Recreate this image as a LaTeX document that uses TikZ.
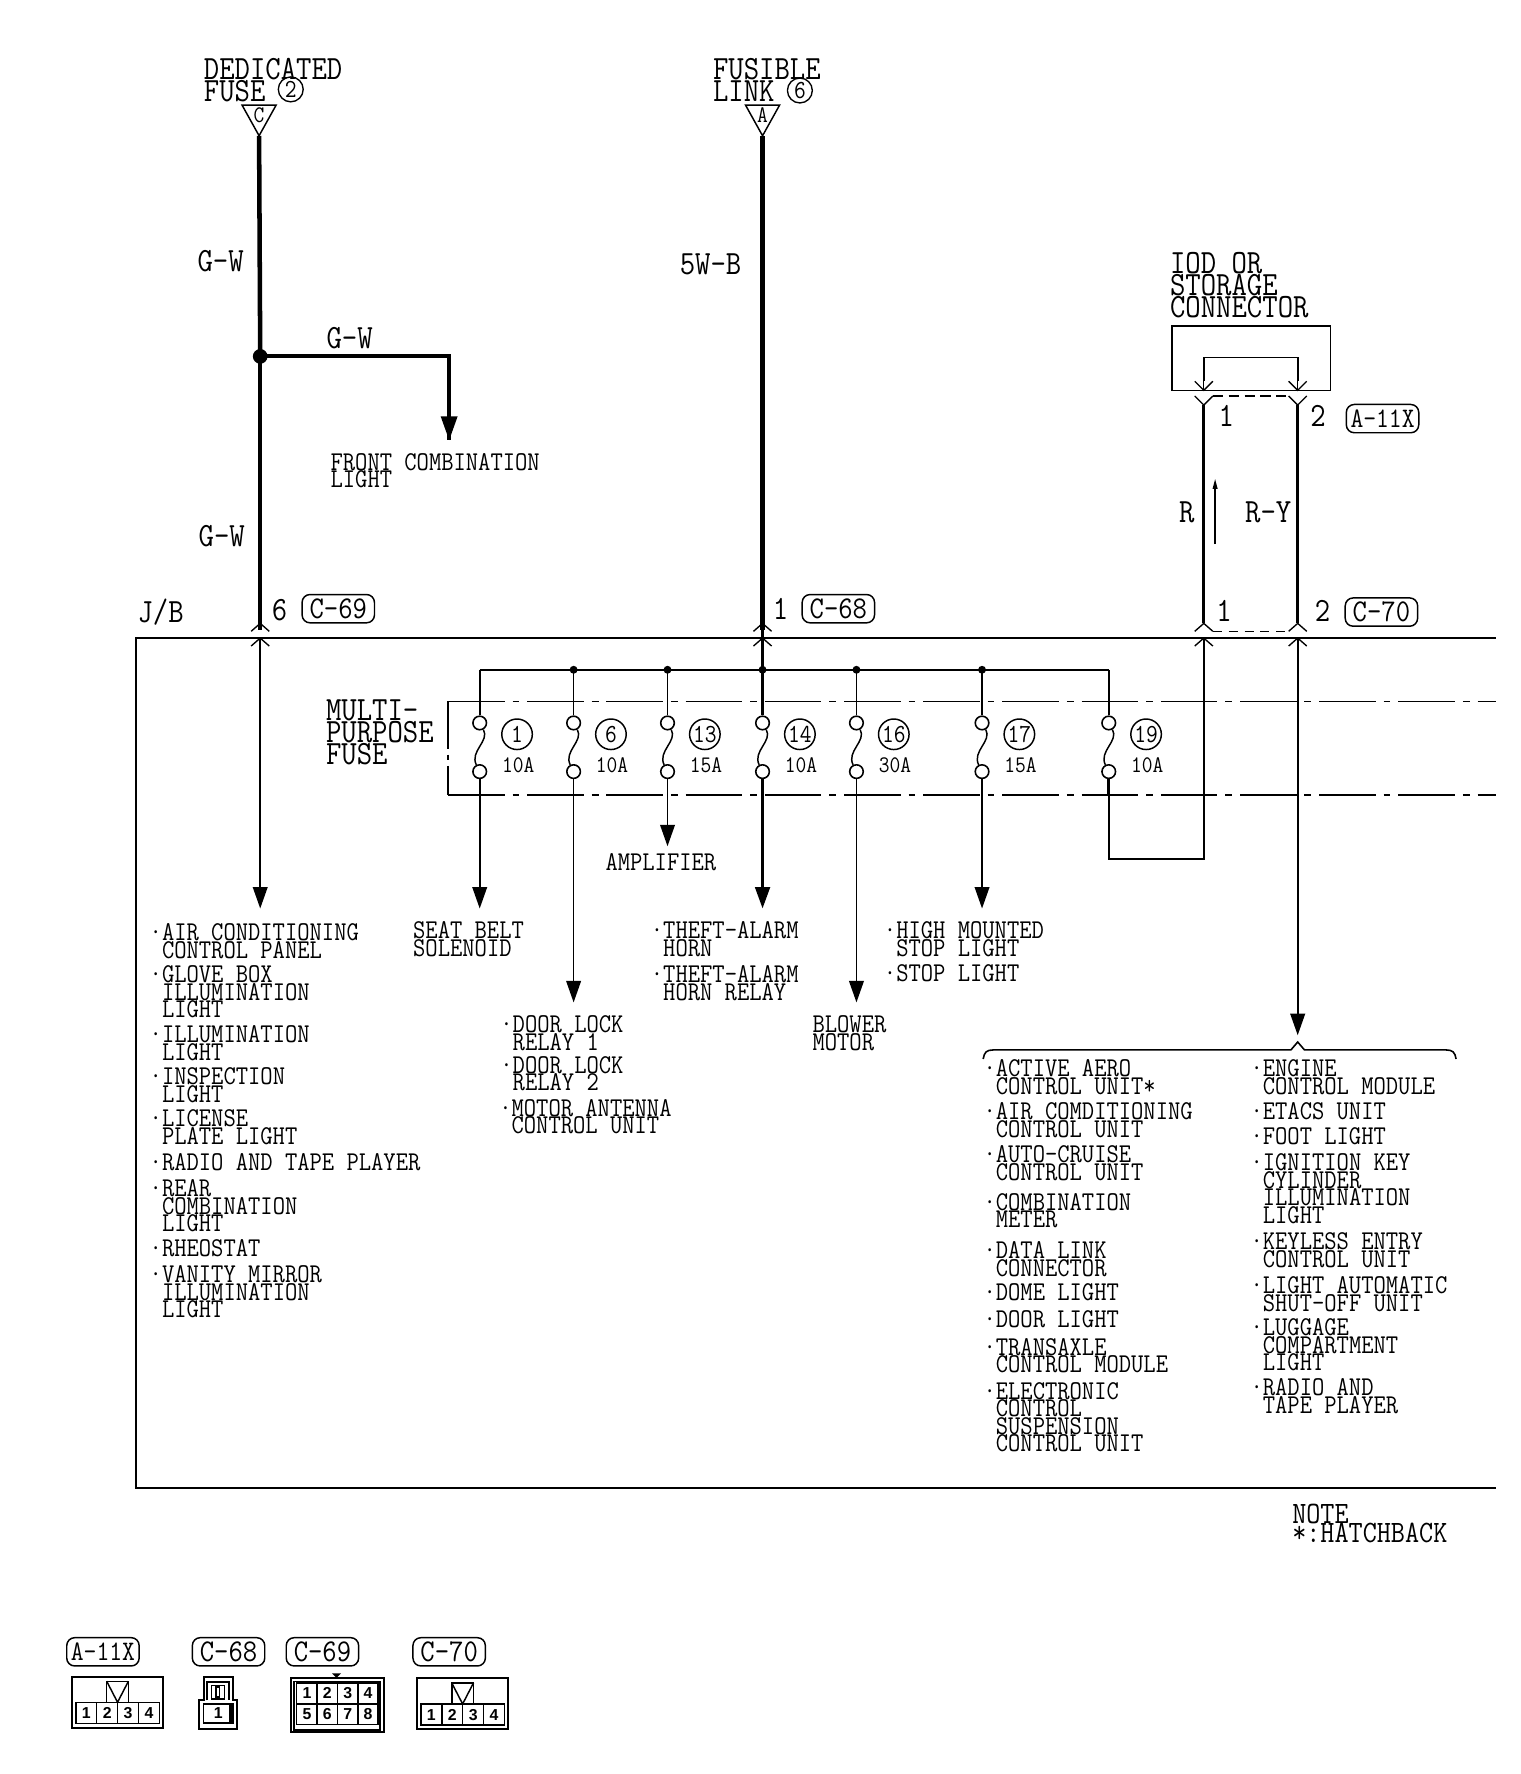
\documentclass[tikz,border=0pt]{standalone}
\usepackage{fontspec}
\usetikzlibrary{arrows.meta,calc}
\newfontfamily\wf[FakeStretch=0.88]{Latin Modern Mono}
\newfontfamily\cellf{Liberation Sans}
\newcommand\smalltxt{\wf\fontsize{24}{15.5}\selectfont\lineskiplimit=-100pt}
\newcommand\bigtxt{\wf\fontsize{30}{19.5}\selectfont\lineskiplimit=-100pt}
\newcommand\notetxt{\wf\fontsize{27.5}{17.2}\selectfont\lineskiplimit=-100pt}
\newcommand\amptxt{\wf\fontsize{21}{15}\selectfont}
\newcommand\numtxt{\wf\fontsize{23}{15}\selectfont}
\newcommand\reftxt{\wf\fontsize{28}{20}\selectfont}
\newcommand\reftxtn{\wf\fontsize{25}{20}\selectfont}
\newcommand\bul{\llap{·}}
\tikzset{
  txt/.style={anchor=north west,inner sep=0,align=left,font=\smalltxt},
  bigt/.style={anchor=north west,inner sep=0,align=left,font=\bigtxt},
  lab/.style={inner sep=0,font=\bigtxt},
  conn/.style={draw,rounded corners=7pt,font=\reftxt,minimum width=64pt,minimum height=25pt,inner sep=0,line width=1.3pt},
  connn/.style={conn,font=\reftxtn},
  heavy/.style={line width=4pt},
  medw/.style={line width=2.6pt},
  thinw/.style={line width=1.4pt},
  arr/.style={-{Triangle[length=19pt,width=13pt]}},
  dot/.style={circle,fill=black,inner sep=0,minimum size=7pt},
  fuse/.style={circle,draw,fill=white,inner sep=0,minimum size=12pt,line width=1.4pt},
  fnum/.style={circle,draw,inner sep=0,minimum size=27pt,line width=1.3pt,font=\numtxt},
  famp/.style={inner sep=0,font=\amptxt},
  ddot/.style={line width=1.6pt,dash pattern=on 50pt off 7pt on 6pt off 7pt},
  cell/.style={draw,line width=1.3pt,minimum width=18.5pt,minimum height=18.5pt,inner sep=0,font=\cellf\fontsize{14}{14}\selectfont\bfseries},
  frame/.style={draw,line width=1.8pt,inner sep=0},
}
\newcommand\Lab[4]{\node[txt] (#1) at (#2,#3-7.5) {#4};}
\newcommand\Chev[3]{\draw[line width=1.2pt] (#1-8,#2+#3) -- (#1,#2) -- (#1+8,#2+#3);}
\begin{document}
\begin{tikzpicture}[x=1pt,y=-1pt]
\useasboundingbox (0,0) rectangle (1344,1568);

% ---- headings
\node[bigt] (ded) at (180,51) {DEDICATED\\FUSE};
\node[circle,draw,inner sep=0,minimum size=22pt,line width=1.2pt,font=\numtxt] (ded2) at (257,79) {2};
\node[bigt] (fus) at (630,51) {FUSIBLE\\LINK};
\node[circle,draw,inner sep=0,minimum size=22pt,line width=1.2pt,font=\numtxt] (fus6) at (707,80) {6};
\coordinate (tc1) at (214,93); \coordinate (tc2) at (244,93); \coordinate (w1t) at (229,120);
\coordinate (ta1) at (659,93); \coordinate (ta2) at (689,93); \coordinate (w2t) at (674,120);
\draw[line width=1.3pt] (tc1) -- (tc2) -- (w1t) -- cycle;
\draw[line width=1.3pt] (ta1) -- (ta2) -- (w2t) -- cycle;
\node[inner sep=0,font=\amptxt] (tcl) at (229,102) {C};
\node[inner sep=0,font=\amptxt] (tal) at (674,102) {A};

% ---- main wires
\coordinate (w1b) at (230,557);
\coordinate (w2b) at (674,557);
\node[dot,minimum size=13pt] (j1) at (230,315) {};
\coordinate (b1) at (397,315);
\coordinate (b1t) at (397,389);
\draw[heavy] (w1t) -- (j1.center);
\draw[medw,line width=3.4pt] (j1.center) -- (w1b);
\draw[medw,line width=3.4pt,line join=miter] (j1.center) -- (b1) -- (b1t);
\fill (389.5,368) -- (404.5,368) -- (397,389) -- cycle;
\draw[heavy] (w2t) -- (w2b);

% ---- J/B box
\coordinate (boxtl) at (120,564); \coordinate (boxtr) at (1322,564);
\coordinate (boxbl) at (120,1315); \coordinate (boxbr) at (1322,1315);
\draw[line width=1.3pt] (boxtr) -- (boxtl) -- (boxbl) -- (boxbr);
\draw[line width=2pt] (1147,564) -- (boxtr);

% ---- chevrons at J/B
\foreach \x in {230,674,1064,1147} {\Chev{\x}{551}{7}\Chev{\x}{564}{7}}

% ---- labels on wires
\node[lab] (gw1) at (195,231) {G-W};
\node[lab] (gw2) at (309,299) {G-W};
\node[lab] (gw3) at (196,474) {G-W};
\node[lab] (sw) at (628,234) {5W-B};
\node[lab] (jb) at (142,541) {J/B};
\node[lab] (n6) at (247,539) {6};
\node[conn] (c69) at (299,538) {C-69};
\node[lab] (n1) at (690,538) {1};
\node[conn] (c68) at (741,538) {C-68};
\node[txt] (fcl) at (292,400.5) {FRONT COMBINATION\\LIGHT};

% ---- IOD connector
\node[bigt] (iod) at (1034,223) {IOD OR\\STORAGE\\CONNECTOR};
\coordinate (boxa) at (1036,288); \coordinate (boxb) at (1176,345);
\draw[line width=1.3pt] (boxa) rectangle (boxb);
\coordinate (ua) at (1064,337); \coordinate (ub) at (1064,316);
\coordinate (uc) at (1147,316); \coordinate (ud) at (1147,337);
\draw[line width=1.6pt] (ua) -- (ub) -- (uc) -- (ud);
\foreach \x in {1064,1147} {
  \draw[line width=1.2pt] (\x-8,337) -- (\x,345) -- (\x+8,337);
  \draw[line width=1.2pt] (\x-8,350) -- (\x,358) -- (\x+8,350);
  \draw[line width=1.2pt] (\x,337) -- (\x,345);
}
\coordinate (r1t) at (1064,358); \coordinate (r1b) at (1064,551);
\coordinate (r2t) at (1147,358); \coordinate (r2b) at (1147,551);
\draw[line width=3pt] (r1t) -- (r1b);
\draw[line width=3pt] (r2t) -- (r2b);
\draw[line width=1.5pt,dash pattern=on 9pt off 5pt] (1072,350) -- (1139,350);
\draw[line width=1.1pt,dash pattern=on 8pt off 6pt] (1072,558) -- (1139,558);
\node[lab] (a1) at (1084,368) {1};
\node[lab] (a2) at (1165,368) {2};
\node[connn] (a11x) at (1222,370) {A-11X};
\node[lab] (c1) at (1082,540) {1};
\node[lab] (c2) at (1169,540) {2};
\node[conn] (c70) at (1221,541) {C-70};
\node[lab] (rr) at (1049,453) {R};
\node[lab] (ry) at (1121,453) {R-Y};
\coordinate (sa) at (1074,481); \coordinate (sb) at (1074,423);
\draw[line width=1.5pt,-{Triangle[length=9pt,width=4pt]}] (sa) -- (sb);

% ---- fuse block
\node[bigt] (mpf) at (288,618) {MULTI-\\PURPOSE\\FUSE};
\coordinate (dl) at (396,620); \coordinate (dr) at (1322,620);
\coordinate (el) at (396,703); \coordinate (er) at (1322,703);
\draw[ddot] (dl) -- (dr);
\draw[ddot,line width=2pt] (el) -- (er);
\draw[line width=1.3pt,dash pattern=on 42pt off 5pt on 5pt off 5pt] (dl) -- (el);

\coordinate (busl) at (424,592); \coordinate (busr) at (980,592);
\draw[line width=2.2pt] (busl) -- (busr);
\foreach \n/\x/\num/\amp/\w in {a/424/1/10A/1.5,b/507/6/10A/1.5,c/590/13/15A/1.5,d/674/14/10A/2.6,e/757/16/30A/1.5,f/868/17/15A/1.5,g/980/19/10A/1.5} {
  \coordinate (top\n) at (\x,592);
  \node[fuse] (ft\n) at (\x,639) {};
  \node[fuse] (fb\n) at (\x,682) {};
  \draw[line width=\w pt] (top\n) -- (ft\n);
  \draw[line width=1.3pt] (ft\n) .. controls (\x+9,655) and (\x-9,664) .. (fb\n);
  \node[fnum] (num\n) at (\x+33,649) {\num};
  \node[famp] (amp\n) at (\x+34,676) {\amp};
}
\foreach \n in {b,c,d,e,f} {\node[dot] (bus\n) at (top\n) {};}
\draw[line width=2.6pt] (w2b) -- (topd);

% ---- wires out of J/B
\coordinate (l1) at (230,803);
\draw[thinw,arr] (230,564) -- (l1);
\coordinate (tipa) at (424,803); \coordinate (tipb) at (507,886);
\coordinate (tipc) at (590,748); \coordinate (tipd) at (674,803);
\coordinate (tipe) at (757,886); \coordinate (tipf) at (868,803);
\draw[thinw,arr] (fba) -- (tipa);
\draw[thinw,arr] (fbb) -- (tipb);
\draw[thinw,arr] (fbc) -- (tipc);
\draw[medw,arr] (fbd) -- (tipd);
\draw[thinw,arr] (fbe) -- (tipe);
\draw[thinw,arr] (fbf) -- (tipf);
\coordinate (gc) at (980,759); \coordinate (gd) at (1064,759);
\draw[line width=3pt] (fbg) -- (980,703);
\draw[line width=1.5pt] (980,703) -- (gc) -- (gd) -- (1064,564);
\coordinate (tipr) at (1147,915);
\draw[thinw,arr] (1147,564) -- (tipr);

% ---- brace
\coordinate (brl) at (869,936); \coordinate (brr) at (1287,936); \coordinate (brm) at (1147,921);
\draw[line width=1.4pt] (brl) .. controls (870,930) and (872,928) .. (878,928) -- (1141,928) -- (brm) -- (1153,928) -- (1278,928) .. controls (1284,928) and (1286,930) .. (brr);

% ---- short labels
\Lab{amp}{535}{762}{AMPLIFIER}
\Lab{seat}{365}{822}{SEAT BELT\\SOLENOID}
\Lab{th1}{586}{822}{\bul THEFT-ALARM\\HORN}
\Lab{th2}{586}{861}{\bul THEFT-ALARM\\HORN RELAY}
\Lab{hm}{792}{822}{\bul HIGH MOUNTED\\STOP LIGHT}
\Lab{sl}{792}{860}{\bul STOP LIGHT}
\Lab{dl1}{453}{905}{\bul DOOR LOCK\\RELAY 1}
\Lab{dl2}{453}{941}{\bul DOOR LOCK\\RELAY 2}
\Lab{ma}{452}{979}{\bul MOTOR ANTENNA\\CONTROL UNIT}
\Lab{bm}{718}{905}{BLOWER\\MOTOR}

% ---- left list
\Lab{l1a}{143}{824}{\bul AIR CONDITIONING\\CONTROL PANEL}
\Lab{l1b}{143}{861}{\bul GLOVE BOX\\ILLUMINATION\\LIGHT}
\Lab{l1c}{143}{914}{\bul ILLUMINATION\\LIGHT}
\Lab{l1d}{143}{951}{\bul INSPECTION\\LIGHT}
\Lab{l1e}{143}{988}{\bul LICENSE\\PLATE LIGHT}
\Lab{l1f}{143}{1027}{\bul RADIO AND TAPE PLAYER}
\Lab{l1g}{143}{1050}{\bul REAR\\COMBINATION\\LIGHT}
\Lab{l1h}{143}{1103}{\bul RHEOSTAT}
\Lab{l1i}{143}{1126}{\bul VANITY MIRROR\\ILLUMINATION\\LIGHT}

% ---- right list 1
\Lab{r1a}{880}{944}{\bul ACTIVE AERO\\CONTROL UNIT*}
\Lab{r1b}{880}{982}{\bul AIR COMDITIONING\\CONTROL UNIT}
\Lab{r1c}{880}{1020}{\bul AUTO-CRUISE\\CONTROL UNIT}
\Lab{r1d}{880}{1062}{\bul COMBINATION\\METER}
\Lab{r1e}{880}{1105}{\bul DATA LINK\\CONNECTOR}
\Lab{r1f}{880}{1142}{\bul DOME LIGHT}
\Lab{r1g}{880}{1166}{\bul DOOR LIGHT}
\Lab{r1h}{880}{1190}{\bul TRANSAXLE\\CONTROL MODULE}
\Lab{r1i}{880}{1229}{\bul ELECTRONIC\\CONTROL\\SUSPENSION\\CONTROL UNIT}

% ---- right list 2
\Lab{r2a}{1116}{944}{\bul ENGINE\\CONTROL MODULE}
\Lab{r2b}{1116}{982}{\bul ETACS UNIT}
\Lab{r2c}{1116}{1004}{\bul FOOT LIGHT}
\Lab{r2d}{1116}{1027}{\bul IGNITION KEY\\CYLINDER\\ILLUMINATION\\LIGHT}
\Lab{r2e}{1116}{1097}{\bul KEYLESS ENTRY\\CONTROL UNIT}
\Lab{r2f}{1116}{1136}{\bul LIGHT AUTOMATIC\\SHUT-OFF UNIT}
\Lab{r2g}{1116}{1173}{\bul LUGGAGE\\COMPARTMENT\\LIGHT}
\Lab{r2h}{1116}{1226}{\bul RADIO AND\\TAPE PLAYER}

\node[anchor=north west,inner sep=0,align=left,font=\notetxt] (note) at (1142,1329) {NOTE\\*:HATCHBACK};

% ---- connector legends
\node[connn] (la) at (91,1460) {A-11X};
\node[conn] (lb) at (202,1460) {C-68};
\node[conn] (lc) at (285,1460) {C-69};
\node[conn] (ld) at (397,1460) {C-70};

% A-11X and C-70 faces
\foreach \p/\dx/\dy in {a/0/0,d/305/1.5} {
  \draw[frame] (63.4+\dx,1482+\dy) rectangle (144.4+\dx,1527+\dy);
  \draw[line width=1.3pt] (94.3+\dx,1504.6+\dy) -- (94.3+\dx,1486+\dy) -- (113.5+\dx,1486+\dy) -- (113.5+\dx,1504.6+\dy);
  \draw[line width=1.3pt] (94.3+\dx,1486+\dy) -- (103.9+\dx,1504.6+\dy) -- (113.5+\dx,1486+\dy);
  \foreach \i in {1,2,3,4} {
    \node[cell] (\p\i) at (67+9.25+18.5*\i-18.5+\dx,1514+\dy) {\i};
  }
}
% C-68 face
\draw[frame] (180,1502.5) -- (180,1482.4) -- (206,1482.4) -- (206,1502.5) -- (209.2,1502.5) -- (209.2,1528) -- (175.9,1528) -- (175.9,1502.5) -- cycle;
\draw[line width=1.3pt] (182.8,1503) -- (182.8,1486.8) -- (202.5,1486.8) -- (202.5,1503);
\draw[line width=1.3pt] (187,1489.8) rectangle (198.4,1501.6);
\draw[line width=1.3pt] (191,1491) rectangle (194,1500);
\node[cell,minimum width=26pt,minimum height=17pt] (b1cell) at (193,1514.5) {1};
\fill (202,1506) rectangle (206,1523);
% C-69 face
\draw[frame] (257,1483) rectangle (339,1531);
\draw[line width=1.3pt] (260,1486) rectangle (336,1529);
\fill (293.5,1479) -- (301.5,1479) -- (297.5,1483) -- cycle;
\foreach \i in {1,2,3,4} {\node[cell,minimum width=18pt] (ct\i) at (271.3+18*\i-18,1496.8) {\i};}
\foreach \i/\t in {1/5,2/6,3/7,4/8} {\node[cell,minimum width=18pt] (cb\i) at (271.3+18*\i-18,1515.2) {\t};}
\end{tikzpicture}
\end{document}
